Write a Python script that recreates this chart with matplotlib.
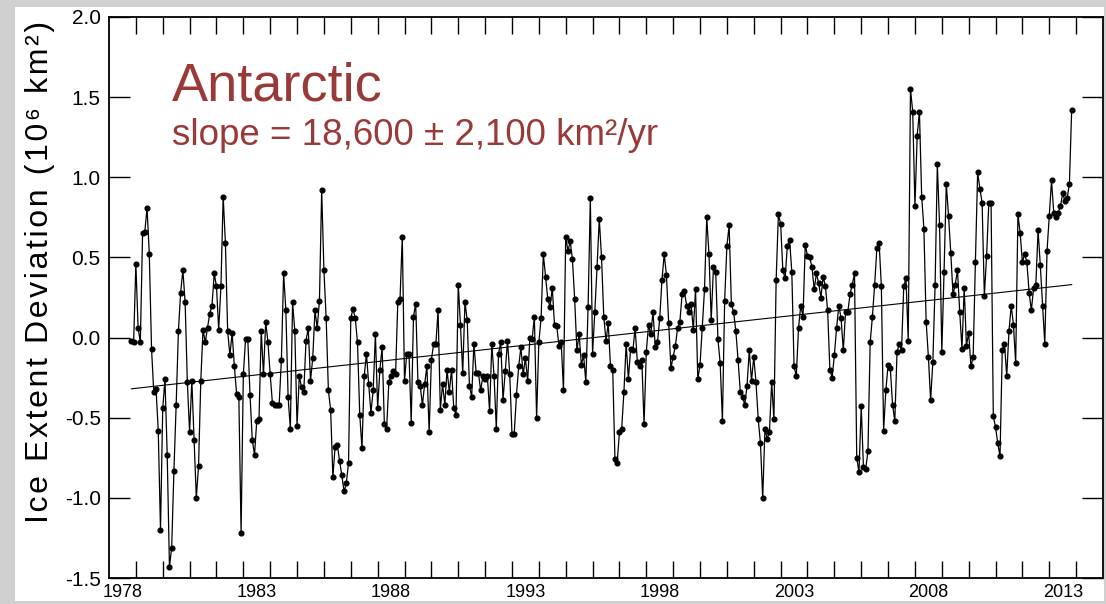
import numpy as np
import pandas as pd
import matplotlib
matplotlib.use("Agg")
import matplotlib.pyplot as plt
from matplotlib.patches import Rectangle

# monthly Antarctic sea ice extent anomalies (10^6 km^2)
v1 = [-0.02, -0.03, 0.46, 0.06, -0.03, 0.65, 0.66, 0.81, 0.52, -0.07,
      -0.34, -0.32, -0.58, -1.20, -0.44, -0.26, -0.73, -1.43, -1.31, -0.83,
      -0.42, 0.04, 0.28, 0.42, 0.22, -0.28, -0.59, -0.27, -0.64, -1.00,
      -0.80, -0.27, 0.05, -0.03, 0.06, 0.15, 0.20, 0.40, 0.32, 0.05,
      0.32, 0.88, 0.59, 0.04, -0.11]
v2 = [0.03, -0.18, -0.35, -0.37, -1.22, -0.23, -0.01, -0.01, -0.36, -0.64,
      -0.73, -0.52, -0.51, 0.04, -0.23, 0.10, -0.03, -0.23, -0.41, -0.42,
      -0.42, -0.42, -0.14, 0.40, 0.17, -0.37, -0.57, 0.22, 0.04, -0.55,
      -0.24, -0.31, -0.34, -0.02, 0.06, -0.27, -0.13, 0.17, 0.06, 0.23,
      0.92, 0.42, 0.12, -0.33, -0.45, -0.87, -0.68, -0.67, -0.77, -0.86,
      -0.96, -0.91, -0.78, 0.12, 0.18, 0.12]
v3 = [-0.03, -0.48, -0.69, -0.24, -0.10, -0.29, -0.47, -0.33, 0.02, -0.44,
      -0.20, -0.06, -0.54, -0.57, -0.28, -0.24, -0.21, -0.23, 0.22, 0.24,
      0.63, -0.27, -0.10, -0.10, -0.53, 0.13, 0.21, -0.28, -0.30, -0.42,
      -0.29, -0.18, -0.59, -0.14, -0.04, -0.04, 0.17, -0.45, -0.29, -0.42,
      -0.20, -0.34, -0.20, -0.44, -0.48, 0.33, 0.08, -0.22, 0.22, 0.11,
      -0.30, -0.37, -0.04, -0.22, -0.22, -0.33]
v4 = [-0.24, -0.26, -0.24, -0.46, -0.04, -0.24, -0.57, -0.10, -0.03, -0.39,
      -0.21, -0.02, -0.23, -0.60, -0.60, -0.36, -0.18, -0.06, -0.23, -0.13,
      -0.27, 0.00, -0.01, 0.13, -0.50, -0.03, 0.12, 0.52, 0.38, 0.24,
      0.19, 0.31, 0.08, 0.07, -0.05, -0.03, -0.33, 0.63, 0.54, 0.60,
      0.49, 0.24, -0.08, 0.02, -0.17, -0.11, -0.28, 0.19, 0.87, -0.10,
      0.16, 0.44, 0.74, 0.50, 0.13]
v5 = [-0.02, 0.09, -0.18, -0.20, -0.76, -0.78, -0.59, -0.57, -0.34, -0.04,
      -0.26, -0.07, -0.08, 0.06, -0.15, -0.18, -0.14, -0.54, -0.09, 0.08,
      0.02, 0.16, -0.06, -0.03, 0.12, 0.36, 0.52, 0.39, 0.09, -0.19,
      -0.12, -0.05, 0.06, 0.10, 0.27, 0.29, 0.20, 0.16, 0.21, 0.05,
      0.30, -0.26, -0.17, 0.06, 0.30, 0.75, 0.52, 0.11, 0.44, 0.41,
      -0.01, -0.16, -0.52, 0.23, 0.57, 0.70]
v6 = [0.21, 0.16, 0.04, -0.14, -0.34, -0.37, -0.42, -0.30, -0.08, -0.27,
      -0.12, -0.28, -0.51, -0.66, -1.00, -0.57, -0.63, -0.59, -0.28, -0.51,
      0.36, 0.77, 0.71, 0.42, 0.37, 0.57, 0.61, 0.41, -0.18, -0.24,
      0.06, 0.20, 0.13, 0.58, 0.51, 0.50, 0.44, 0.30, 0.40, 0.34,
      0.25, 0.38, 0.32, 0.17, -0.20, -0.25, -0.11, 0.06, 0.20, 0.12,
      -0.08, 0.16, 0.16, 0.27, 0.33, 0.40]
v7 = [-0.75, -0.84, -0.43, -0.81, -0.82, -0.71, -0.03, 0.13, 0.33, 0.56,
      0.59, 0.32, -0.58, -0.33, -0.17, -0.19, -0.42, -0.52, -0.09, -0.04,
      -0.08, 0.32, 0.37, -0.02, 1.55, 1.41, 0.82, 1.26, 1.41, 0.88,
      0.68, 0.10, -0.12, -0.39, -0.15, 0.33, 1.08, 0.70, -0.09, 0.41,
      0.96, 0.76, 0.53, 0.27, 0.33, 0.42, 0.16, -0.07, 0.31, -0.05,
      0.03, -0.18, -0.12, 0.47, 1.03]
v8 = [0.93, 0.84, 0.26, 0.51, 0.84, 0.84, -0.49, -0.56, -0.66, -0.74,
      -0.08, -0.04, -0.24, 0.04, 0.20, 0.08, -0.16, 0.77, 0.65, 0.47,
      0.52, 0.47, 0.28, 0.17, 0.31, 0.33, 0.67, 0.45, 0.20, -0.04,
      0.54, 0.76, 0.98, 0.78, 0.75, 0.78, 0.82, 0.90, 0.85, 0.87,
      0.96, 1.42]

anom = np.array(v1 + v2 + v3 + v4 + v5 + v6 + v7 + v8)
months = pd.date_range("1978-11-01", periods=len(anom), freq="MS")
t = months.year + (months.month - 1) / 12.0

year_labels = ["1978", "1983", "1988", "1993", "1998", "2003", "2008", "2013"]
title = "Antarctic"
subtitle = "slope = 18,600 \u00b1 2,100 km\u00b2/yr"
ylabel = "Ice Extent Deviation (10\u2076 km\u00b2)"

red = "#9a3a38"
W, H = 1106, 604
fig = plt.figure(figsize=(W / 100, H / 100), dpi=100, facecolor="#d0d0d0")
fig.patches.append(Rectangle((15 / W, 3 / H), (1104 - 15) / W, 1 - 10 / H,
                             transform=fig.transFigure, facecolor="white",
                             edgecolor="none", zorder=-10))
ax = fig.add_axes([109 / W, 1 - 578 / H, (1103 - 109) / W, (578 - 17) / H])
ax.set_zorder(5)
ax.set_facecolor("white")

ax.plot(t, anom, color="black", lw=0.9, marker="o", ms=3.4, zorder=3)

slope, icpt = np.polyfit(t, anom, 1)
tt = np.array([t[0], t[-1]])
ax.plot(tt, slope * tt + icpt, color="black", lw=0.8, zorder=2)

ax.set_xlim(1978, 2015)
ax.set_ylim(-1.5, 2.0)
ax.set_yticks(np.arange(-1.5, 2.01, 0.5))
ax.set_yticklabels(["%.1f" % y for y in np.arange(-1.5, 2.01, 0.5)])
ax.set_xticks(np.arange(1979, 2015))
ax.set_xticklabels([])
ax.set_xticks([int(y) + 0.5 for y in year_labels], minor=True)
ax.set_xticklabels(year_labels, minor=True)

fam = ["Liberation Sans", "DejaVu Sans"]
ax.tick_params(axis="y", which="major", direction="in", length=15, width=1,
               right=True, labelsize=15, pad=6)
ax.tick_params(axis="x", which="major", direction="in", length=12, width=1,
               top=True)
ax.tick_params(axis="x", which="minor", length=0, labelsize=13, pad=4)
for lab in ax.get_yticklabels() + ax.get_xticklabels(minor=True):
    lab.set_family(fam)
for s in ax.spines.values():
    s.set_linewidth(1.3)

# letter-spaced axis title, like the original
spaced = "\u200a".join(ylabel)
fig.text(40 / W, 1 - 272 / H, spaced, rotation=90, ha="center", va="center",
         family=fam, fontsize=23)

ax.text(0.063, 0.852, title, transform=ax.transAxes, color=red, fontsize=39,
        family=fam, va="baseline")
ax.text(0.063, 0.772, subtitle, transform=ax.transAxes, color=red,
        fontsize=26.5, family=fam, va="baseline")

fig.savefig("out.png", dpi=100, facecolor=fig.get_facecolor())
